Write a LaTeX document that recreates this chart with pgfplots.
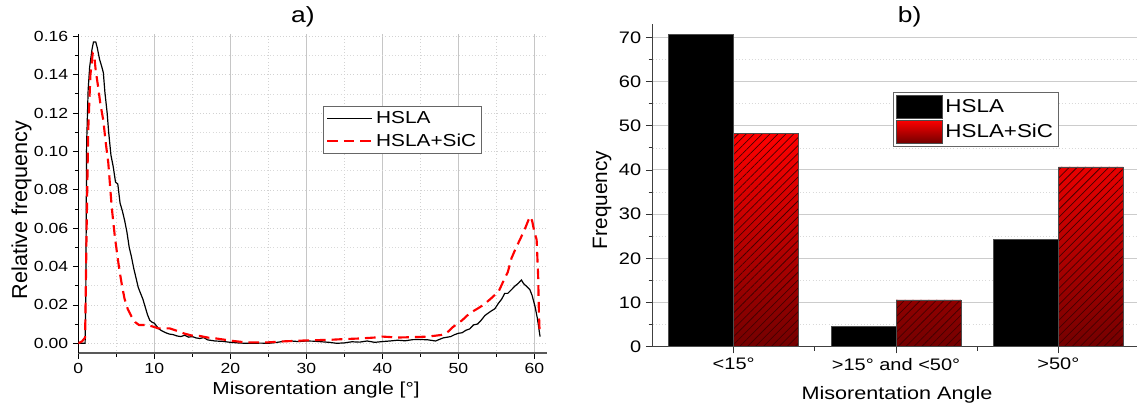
\documentclass[border=0pt]{standalone}
\usepackage{pgfplots}
\pgfplotsset{compat=1.18}
\usepackage{fontspec}
\setmainfont{Liberation Sans}[FakeStretch=1.2]
\newfontfamily\rotfont{Liberation Sans}
\usetikzlibrary{patterns.meta}
\definecolor{barred}{RGB}{255,0,0}
\definecolor{bardark}{RGB}{115,0,0}
\definecolor{hatch}{RGB}{70,0,0}

\pgfplotstableread{
x y
0 0
0.5 0
0.9 0
1.0 0.03
1.1 0.104
1.3 0.132
1.5 0.144
1.8 0.153
2.0 0.157
2.3 0.157
2.5 0.154
2.8 0.148
3.1 0.144
3.3 0.141
3.5 0.131
3.8 0.120
4.0 0.110
4.3 0.098
4.6 0.092
4.9 0.084
5.2 0.083
5.5 0.073
5.8 0.069
6.1 0.064
6.4 0.058
6.7 0.050
7.0 0.045
7.3 0.039
7.6 0.034
7.9 0.029
8.2 0.026
8.5 0.023
8.8 0.019
9.1 0.015
9.4 0.012
9.7 0.011
10.0 0.0105
10.3 0.009
10.6 0.0075
11.0 0.0065
11.5 0.0055
12.0 0.0048
12.5 0.0045
13.0 0.0038
13.5 0.0035
14.0 0.0042
14.5 0.0032
15.0 0.0035
15.5 0.0028
16.0 0.0025
16.5 0.003
17.0 0.0018
17.5 0.0015
18.0 0.0012
19.0 0.0010
20.0 0.0005
21 0.0002
22 0
23 0
24 0.0001
25 0
26 0.0004
27 0.0010
28 0.0012
29 0.0009
30 0.0012
31 0.0011
32 0.0008
33 0.0005
34 0
35 0.0002
36 0.0008
37 0.0006
38 0.0012
39 0.0005
40 0.0009
41 0.0012
42 0.0016
43 0.0013
44 0.0019
45 0.0020
46 0.0018
47 0.0012
48 0.0028
49 0.0035
49.5 0.0045
50.0 0.0052
50.5 0.0055
51.0 0.0068
51.5 0.0075
52.0 0.0096
52.5 0.0100
53.0 0.0120
53.5 0.0145
54.2 0.0165
54.8 0.0180
55.3 0.0210
55.7 0.0230
56.1 0.0260
56.5 0.0260
57.0 0.0280
57.5 0.0300
57.9 0.0313
58.3 0.0330
58.6 0.0310
59.0 0.0296
59.4 0.0280
59.7 0.0250
60.1 0.0190
60.4 0.0130
60.75 0.0035
}\hsla

\pgfplotstableread{
x y
0 0
0.5 0.001
0.9 0.003
1.1 0.060
1.3 0.110
1.6 0.140
1.9 0.151
2.1 0.150
2.3 0.142
2.6 0.134
2.9 0.125
3.3 0.116
3.6 0.105
3.95 0.094
4.4 0.071
4.8 0.056
5.2 0.044
5.5 0.036
5.8 0.029
6.1 0.023
6.5 0.018
7.0 0.014
7.5 0.011
8.0 0.0095
9.0 0.0096
10.0 0.0085
10.5 0.0078
12.0 0.0078
13.0 0.0065
14.0 0.0050
15.0 0.0040
16.0 0.0038
17.0 0.0030
18.0 0.0026
19.0 0.0020
20.4 0.0012
22 0.0005
25 0.0005
27 0.0010
30 0.0015
33 0.0018
35 0.0022
37 0.0025
39 0.0030
40 0.0035
42 0.0030
44 0.0032
46 0.0035
47.7 0.0043
48.5 0.0055
49.3 0.0085
50.5 0.0120
51.5 0.0157
52.5 0.0180
53.3 0.0200
54.2 0.0230
55.3 0.0270
56.0 0.0330
56.5 0.0370
57.0 0.0444
57.5 0.0490
58.1 0.0540
58.7 0.0590
59.4 0.0660
59.7 0.0640
60.0 0.0580
60.3 0.0540
60.5 0.0350
60.6 0.0160
60.7 0.0050
}\hslasic

\pgfplotstableread{
x a b
0 70.7 48.2
1 4.6 10.6
2 24.3 40.7
}\bars

\begin{document}
\begin{tikzpicture}
\useasboundingbox (0,0) rectangle (852.75pt,303.75pt);
% ---------------- a) ----------------
\begin{axis}[
  at={(58.7pt,38.8pt)}, anchor=south west, scale only axis,
  width=351.75pt, height=239.5pt,
  xmin=0, xmax=61.7, ymin=-0.0052, ymax=0.1612,
  axis x line*=bottom, axis y line*=left,
  x axis line style={-, draw=black!65, line width=1.6pt},
  y axis line style={-, draw=black, line width=0.6pt},
  xtick={0,10,20,30,40,50,60}, minor x tick num=1,
  ytick={0,0.02,0.04,0.06,0.08,0.10,0.12,0.14,0.16}, minor y tick num=1,
  tick align=outside, major tick length=4pt, minor tick length=2.5pt,
  tick style={black, line width=0.5pt},
  xmajorgrids, xminorgrids, ymajorgrids, yminorgrids,
  major x grid style={gray!45, line width=0.6pt},
  minor x grid style={gray!35, dotted},
  major y grid style={gray!35, dotted},
  minor y grid style={gray!30, dotted},
  /pgf/number format/assume math mode=true,
  yticklabel style={/pgf/number format/.cd, fixed, fixed zerofill, precision=2},
  ticklabel style={font=\fontsize{11}{12}\selectfont},
  xlabel={Misorentation angle [°]},
  ylabel={\rotfont Relative frequency},
  xlabel style={font=\fontsize{13}{14}\selectfont, at={(axis description cs:0.507,-0.115)}, anchor=center},
  ylabel style={font=\fontsize{16.2}{18}\selectfont, at={(axis description cs:-0.121,0.449)}, anchor=center},
  title={a)},
  title style={at={(axis description cs:0.479,1)}, anchor=center, yshift=6.75pt, font=\fontsize{16.5}{18}\selectfont},
  legend style={at={(axis description cs:0.522,0.7745)}, anchor=north west,
    draw=black!60, line width=0.5pt, font=\fontsize{13}{15}\selectfont,
    inner sep=2pt, row sep=2pt, legend cell align=left},
  legend image code/.code={\draw[#1] (0pt,0pt) -- (34pt,0pt);},
]
\addplot[black, line width=0.9pt] table[x=x,y=y] {\hsla};
\addlegendentry{HSLA}
\addplot[red, line width=1.6pt, dash pattern=on 8pt off 4.5pt] table[x=x,y=y] {\hslasic};
\addlegendentry{HSLA+SiC}
\end{axis}
% ---------------- b) ----------------
\begin{axis}[
  at={(489.4pt,43.7pt)}, anchor=south west, scale only axis,
  width=365.25pt, height=242pt,
  xmin=-0.5, xmax=2.5, ymin=0, ymax=73,
  axis x line*=bottom, axis y line*=left,
  axis line style={-, draw=black!75, line width=0.8pt},
  ybar, bar width=0.4,
  xtick={0,1,2}, xticklabels={<15°, >15° and <50°, >50°},
  extra x ticks={0.5,1.5}, extra x tick labels={},
  extra x tick style={major tick length=3pt, grid=none},
  ytick={0,10,20,30,40,50,60,70}, minor y tick num=1,
  tick align=outside, major tick length=5pt, minor tick length=3pt,
  tick style={black!80, line width=0.6pt},
  ymajorgrids, yminorgrids,
  major y grid style={gray!40, line width=0.7pt},
  minor y grid style={gray!30, dotted},
  /pgf/number format/assume math mode=true,
  ticklabel style={font=\fontsize{12.5}{14}\selectfont},
  xlabel={Misorentation Angle},
  ylabel={\rotfont Frequency},
  xlabel style={font=\fontsize{13.5}{15}\selectfont, at={(axis description cs:0.502,-0.15)}, anchor=center},
  ylabel style={font=\fontsize{15.6}{17}\selectfont, at={(axis description cs:-0.1037,0.4546)}, anchor=center},
  title={b)},
  title style={at={(axis description cs:0.528,1)}, anchor=center, yshift=-0.75pt, font=\fontsize{16.5}{18}\selectfont},
  legend style={at={(axis description cs:0.494,0.790)}, anchor=north west,
    draw=black!60, line width=0.5pt, font=\fontsize{14}{16}\selectfont,
    inner sep=2pt, row sep=1pt, legend cell align=left},
]
\addplot[bar shift=-0.2, fill=black, draw=black!70, line width=0.5pt,
  legend image code/.code={\draw[fill=black, draw=black!70] (0pt,-8.6pt) rectangle (34.5pt,8.6pt);}]
  table[x=x,y=a] {\bars};
\addlegendentry{HSLA}
\addplot[bar shift=0.2, top color=barred, bottom color=bardark, draw=black!70, line width=0.5pt,
  legend image code/.code={\draw[top color=barred, bottom color=bardark, draw=none]
     (0pt,-8.6pt) rectangle (34.5pt,8.6pt);
     \fill[pattern={Lines[angle=45, distance=4.2pt, line width=0.55pt]}, pattern color=hatch] (0pt,-8.6pt) rectangle (34.5pt,8.6pt);
     \draw[black!70] (0pt,-8.6pt) rectangle (34.5pt,8.6pt);}]
  table[x=x,y=b] {\bars};
\addlegendentry{HSLA+SiC}
\addplot[bar shift=0.2, draw=black!70, line width=0.5pt, fill=none,
  pattern={Lines[angle=45, distance=4.2pt, line width=0.55pt]}, pattern color=hatch, forget plot]
  table[x=x,y=b] {\bars};
\end{axis}
\end{tikzpicture}
\end{document}
